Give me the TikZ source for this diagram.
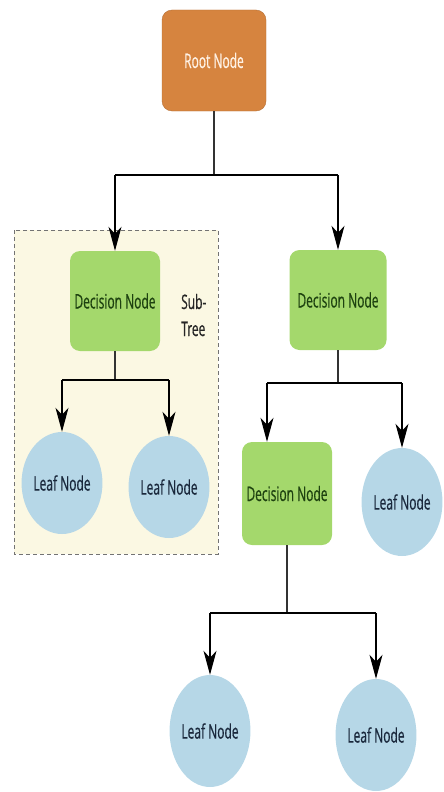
\documentclass[tikz,border=0pt]{standalone}
\usepackage{fontspec}
\setmainfont[FakeStretch=0.6,FakeBold=0.5]{Open Sans}
\usetikzlibrary{arrows.meta,calc,shapes.geometric}
\definecolor{rootc}{HTML}{D6843F}
\definecolor{decc}{HTML}{A4D86C}
\definecolor{leafc}{HTML}{B6D7E7}
\definecolor{creamc}{HTML}{FBF8E3}
\definecolor{dectext}{HTML}{1E4210}
\definecolor{leaftext}{HTML}{1A283C}
\tikzset{
  basefont/.style={font=\fontsize{20}{22}\selectfont},
  rootbox/.style={draw=rootc!85!black, line width=0.4pt, fill=rootc, rounded corners=10pt, minimum width=104pt, minimum height=101pt, text=white!90!orange, basefont},
  decbox/.style={fill=decc, rounded corners=10pt, minimum height=100pt, text=dectext, basefont, inner sep=0pt},
  leafnode/.style={ellipse, fill=leafc, minimum width=75pt, minimum height=102pt, text=leaftext, basefont, inner sep=0pt},
  bar/.style={line width=2.4pt, black},
  stem/.style={line width=1.1pt, black!80},
  arr/.style={line width=1.3pt, black, -{Stealth[length=24pt,width=13pt,inset=7pt]}},
  subtree/.style={draw=black!55, dash pattern=on 4pt off 3pt, line width=1pt, fill=creamc},
}
\begin{document}
\begin{tikzpicture}[x=1pt,y=-1pt]
\useasboundingbox (0,0) rectangle (444,792);
\draw[subtree] (14,230) rectangle (218,554);
\node[rootbox] (root) at (214,60.5) {Root Node};
\node[decbox, minimum width=90pt] (dl) at (115,301) {Decision Node};
\node[decbox, minimum width=97pt] (dr) at (338,300) {Decision Node};
\node[decbox, minimum width=90pt, minimum height=103pt] (dd) at (287,493.5) {Decision Node};
\node[basefont, text=black!85, align=left, anchor=west, inner sep=0pt] (st) at (181,315) {Sub-\\[5pt]Tree};
\node[leafnode] (l1) at (62,483) {Leaf Node};
\node[leafnode] (l2) at (169,487) {Leaf Node};
\node[leafnode, minimum width=78pt, minimum height=108pt] (l3) at (402,502) {Leaf Node};
\node[leafnode, minimum width=75pt, minimum height=112pt] (l4) at (210,731) {Leaf Node};
\node[leafnode, minimum width=75pt, minimum height=112pt] (l5) at (376,735) {Leaf Node};
% root level
\coordinate (b1) at (214,175);
\draw[stem] (root.south) -- (b1);
\draw[bar] (dl.north |- b1) -- (dr.north |- b1);
\draw[arr] (dl.north |- b1) -- (dl.north);
\draw[arr] (dr.north |- b1) -- (dr.north);
% left subtree
\coordinate (b2) at (115,380);
\draw[stem] (dl.south) -- (b2);
\draw[bar] (l1.north |- b2) -- (l2.north |- b2);
\draw[arr] (l1.north |- b2) -- (l1.north);
\draw[arr] (l2.north |- b2) -- (l2.north);
% right subtree
\coordinate (b3) at (338,383);
\coordinate (ddin) at ($(dd.north)+(-20,0)$);
\draw[stem] (dr.south) -- (b3);
\draw[bar] (ddin |- b3) -- (l3.north |- b3);
\draw[arr] (ddin |- b3) -- (ddin);
\draw[arr] (l3.north |- b3) -- (l3.north);
% lower subtree
\coordinate (b4) at (287,613);
\draw[stem] (dd.south) -- (b4);
\draw[bar] (l4.north |- b4) -- (l5.north |- b4);
\draw[arr] (l4.north |- b4) -- (l4.north);
\draw[arr] (l5.north |- b4) -- (l5.north);
\end{tikzpicture}
\end{document}
